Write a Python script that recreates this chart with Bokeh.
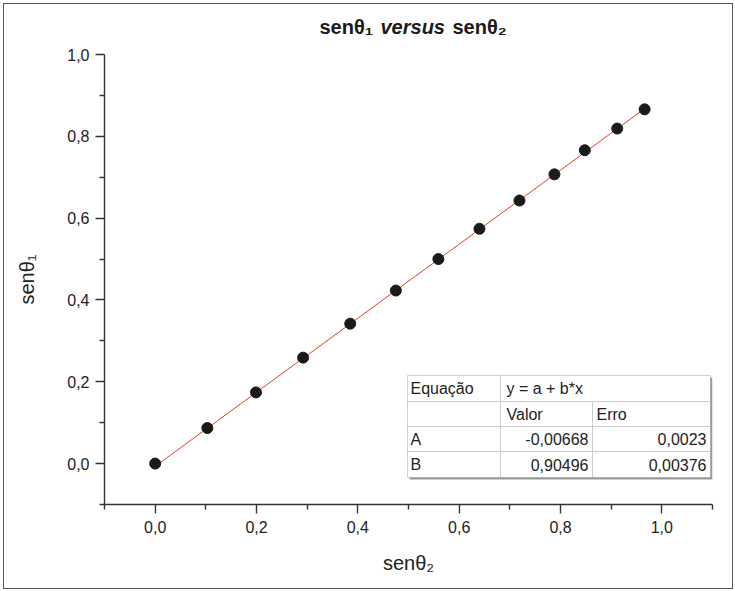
from bokeh.plotting import figure
from bokeh.layouts import column
from bokeh.models import FixedTicker, CustomJSTickFormatter, Label, BoxAnnotation, Range1d
from bokeh.embed import file_html
from bokeh.resources import INLINE

# ---- data ----
sen_theta2 = [0.0, 0.103, 0.199, 0.292, 0.385, 0.475, 0.559, 0.640, 0.719, 0.788, 0.848, 0.912, 0.966]
sen_theta1 = [0.0, 0.087, 0.174, 0.259, 0.342, 0.423, 0.500, 0.574, 0.643, 0.707, 0.766, 0.819, 0.866]
fit_a = -0.00668
fit_a_err = 0.0023
fit_b = 0.90496
fit_b_err = 0.00376
major_ticks = [0.0, 0.2, 0.4, 0.6, 0.8, 1.0]
x_minor_ticks = [-0.1, 0.1, 0.3, 0.5, 0.7, 0.9, 1.1]
y_minor_ticks = [-0.1, 0.1, 0.3, 0.5, 0.7, 0.9]
title_parts = ["senθ₁", "versus", "senθ₂"]
x_label = "senθ₂"
y_label = "senθ₁"
table_rows = [
    ["Equação", "y = a + b*x", ""],
    ["", "Valor", "Erro"],
    ["A", "-0,00668", "0,0023"],
    ["B", "0,90496", "0,00376"],
]

# ---- layout ----
W = 728
TH = 40            # height of the title strip
H = 544            # height of the plot figure
ML, MR, MT, MB = 100, 20, 10, 84
X0, X1 = -0.1, 1.1
Y0, Y1 = -0.1, 1.0
FONT = "Liberation Sans"


def X(px):
    return X0 + (px - ML) / (W - ML - MR) * (X1 - X0)


def Y(py):
    # py measured from the top of the whole chart (title strip included)
    py = py - TH
    return Y1 - (py - MT) / (H - MT - MB) * (Y1 - Y0)


# ---- title strip (frame aligned with the plot frame; x data = canvas pixels) ----
t = figure(width=W, height=TH, output_backend="svg", toolbar_location=None,
           x_axis_type=None, y_axis_type=None,
           x_range=Range1d(ML, W - MR), y_range=Range1d(TH, 0),
           min_border_left=ML, min_border_right=MR, min_border_top=0, min_border_bottom=0)
t.grid.visible = False
t.outline_line_color = None
t.background_fill_color = "white"
t.border_fill_color = "white"
title_x = [315, 376, 448]
title_y = 22
title_style = ["bold", "bold italic", "bold"]
for txt, tx, st in zip(title_parts, title_x, title_style):
    t.add_layout(Label(x=tx, y=title_y, text=txt, text_font=FONT, text_font_size="20px",
                       text_font_style=st, text_color="#1a1a1a", text_baseline="middle",
                       text_align="left"))

# ---- main plot ----
p = figure(width=W, height=H, output_backend="svg", toolbar_location=None,
           x_range=Range1d(X0, X1), y_range=Range1d(Y0, Y1),
           min_border_left=ML, min_border_right=MR, min_border_top=MT, min_border_bottom=MB)
p.grid.visible = False
p.outline_line_color = None
p.background_fill_color = "white"
p.border_fill_color = "white"

fmt = CustomJSTickFormatter(code="return tick.toFixed(1).replace('.', ',');")
for ax, minor in ((p.xaxis[0], x_minor_ticks), (p.yaxis[0], y_minor_ticks)):
    ax.ticker = FixedTicker(ticks=major_ticks, minor_ticks=minor)
    ax.formatter = fmt
    ax.axis_line_color = "#333333"
    ax.axis_line_width = 1.4
    ax.major_tick_line_color = "#333333"
    ax.minor_tick_line_color = "#333333"
    ax.major_tick_line_width = 1.4
    ax.minor_tick_line_width = 1.4
    ax.major_tick_in = 0
    ax.major_tick_out = 9
    ax.minor_tick_in = 0
    ax.minor_tick_out = 5
    ax.major_label_text_font = FONT
    ax.major_label_text_font_size = "16px"
    ax.major_label_text_color = "#222222"
    ax.axis_label_text_font = FONT
    ax.axis_label_text_font_size = "20px"
    ax.axis_label_text_font_style = "normal"
    ax.axis_label_text_color = "#222222"

p.xaxis[0].axis_label = x_label
p.yaxis[0].axis_label = y_label
p.xaxis[0].major_label_standoff = 7
p.yaxis[0].major_label_standoff = 6
p.xaxis[0].axis_label_standoff = 16
p.yaxis[0].axis_label_standoff = 26

# fit line
fx = [sen_theta2[0], sen_theta2[-1]]
fy = [fit_a + fit_b * v for v in fx]
p.line(fx, fy, line_color="#e0402a", line_width=1)

# data points
p.scatter(sen_theta2, sen_theta1, size=11, fill_color="#1a1a1a", line_color="#1a1a1a")

# table
tL, tR, tT, tB = 403, 706, 371, 473
row_lines = [397, 422, 447]
col_lines = [496, 588]
p.add_layout(BoxAnnotation(left=X(tL + 2), right=X(tR + 2), top=Y(tT + 2), bottom=Y(tB + 2),
                           fill_color="#9a9a9a", fill_alpha=1, line_color=None, level="underlay"))
p.add_layout(BoxAnnotation(left=X(tL), right=X(tR), top=Y(tT), bottom=Y(tB),
                           fill_color="white", fill_alpha=1, line_color=None, level="underlay"))
p.segment(x0=[X(tL)] * 3, x1=[X(tR)] * 3, y0=[Y(r) for r in row_lines], y1=[Y(r) for r in row_lines],
          line_color="#cccccc", line_width=1)
p.segment(x0=[X(col_lines[0]), X(col_lines[1])], x1=[X(col_lines[0]), X(col_lines[1])],
          y0=[Y(tT), Y(row_lines[0])], y1=[Y(tB), Y(tB)], line_color="#cccccc", line_width=1)
p.add_layout(BoxAnnotation(left=X(tL), right=X(tR), top=Y(tT), bottom=Y(tB),
                           fill_alpha=0, line_color="#666666", line_width=1, level="overlay"))

row_centers = [384, 409.5, 434.5, 460]
for r, (c1, c2, c3) in enumerate(table_rows):
    yy = Y(row_centers[r])
    cells = [(c1, tL + 3, "left")]
    if r < 2:
        cells += [(c2, col_lines[0] + 6, "left"), (c3, col_lines[1] + 4, "left")]
    else:
        cells += [(c2, col_lines[1] - 4, "right"), (c3, tR - 4, "right")]
    for txt, cx, al in cells:
        if txt:
            p.add_layout(Label(x=X(cx), y=yy, text=txt, text_font=FONT, text_font_size="16px",
                               text_color="#222222", text_baseline="middle", text_align=al))

layout = column(t, p, spacing=0,
                styles={"border": "1px solid #555", "margin-left": "3px", "margin-top": "3px"})

open("out.html", "w").write(file_html(layout, INLINE))
